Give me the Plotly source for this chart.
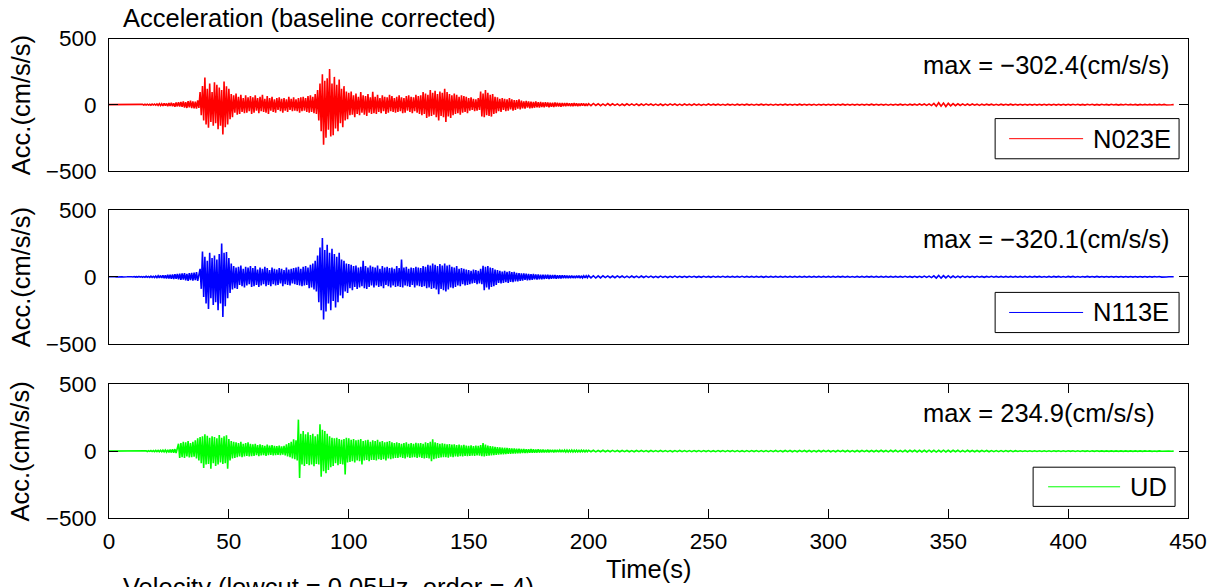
import numpy as np
import plotly.graph_objects as go

# ---------------- data ----------------
# Samples every 0.5 s from 0 s to 199.5 s, then every 1 s from 200 s to 444 s.
HEAD_DT = 0.5
TAIL_T0 = 200.0
TAIL_DT = 1.0

x_ticks = [0, 50, 100, 150, 200, 250, 300, 350, 400, 450]
y_ticks = [-500, 0, 500]

n023e_head = [
    0, 0, 1, 0, -1, 0, 1, -1, 0, 1, 0, -1, 1, 0, -1, 1, 0, -1, 1, -1,
    1, -2, 2, -1, 2, -2, 3, -2, 2, -3, 3, -2, 4, -3, 3, -4, 4, -3, 5, -4,
    6, -5, 8, -6, 7, -9, 10, -8, 9, -11, 12, -10, 14, -12, 11, -15, 16, -13, 18, -14,
    20, -17, 24, -22, 19, -25, 27, -21, 30, -26, 25, -28, 22, -30, 32, -24, 95, -80, 140, -120,
    205, -150, 120, -175, 160, -130, 95, -160, 170, -140, 150, -185, 130, -160, 110, -225, 175, -170, 140, -150,
    120, -110, 80, -95, 70, -60, 85, -75, 60, -70, 75, -55, 50, -65, 70, -60, 55, -50, 65, -70,
    55, -60, 70, -45, 50, -65, 60, -50, 75, -55, 45, -60, 65, -70, 50, -45, 60, -55, 40, -60,
    50, -40, 55, -50, 45, -60, 50, -45, 40, -55, 60, -40, 45, -50, 55, -45, 40, -50, 50, -60,
    55, -50, 60, -45, 50, -55, 65, -60, 70, -55, 60, -65, 80, -70, 110, -120, 160, -200, 230, -302.4,
    180, -250, 200, -190, 270, -240, 160, -230, 210, -180, 150, -200, 190, -140, 120, -170, 140, -120, 100, -110,
    90, -80, 100, -75, 70, -95, 85, -70, 60, -80, 95, -60, 70, -75, 65, -85, 80, -60, 55, -70,
    98, -65, 60, -70, 75, -55, 50, -65, 70, -50, 60, -70, 55, -60, 75, -50, 65, -55, 50, -60,
    60, -55, 70, -50, 55, -65, 50, -60, 65, -45, 70, -55, 60, -65, 55, -50, 75, -60, 65, -70,
    70, -80, 95, -70, 85, -100, 75, -90, 110, -85, 90, -75, 105, -95, 80, -120, 100, -85, 90, -95,
    120, -130, 95, -90, 80, -100, 70, -80, 85, -70, 75, -65, 60, -75, 70, -60, 65, -55, 60, -65,
    50, -45, 55, -40, 45, -50, 40, -45, 50, -40, 100, -90, 85, -95, 110, -80, 90, -85, 75, -90,
    80, -70, 60, -65, 55, -50, 45, -55, 50, -40, 45, -50, 40, -45, 50, -35, 40, -45, 35, -40,
    35, -30, 40, -35, 30, -28, 25, -30, 28, -22, 25, -27, 22, -25, 20, -23, 24, -20, 18, -22,
    20, -18, 16, -20, 18, -15, 17, -19, 15, -16, 14, -17, 16, -13, 15, -14, 12, -15, 13, -12,
    12, -11, 13, -10, 11, -12, 10, -11, 12, -9, 10, -11, 9, -10, 11, -8, 9, -10, 8, -9,
]
n023e_tail = [
    8, -7, 9, -6, 7, -8, 6, -7, 8, -6, 7, -5, 6, -7, 5, -6, 7, -5, 6, -5,
    6, -6, 5, -5, 6, -4, 5, -5, 4, -5, 5, -6, 4, -5, 6, -4, 5, -5, 4, -5,
    5, -4, 4, -5, 5, -4, 4, -5, 3, -4, 5, -4, 4, -3, 4, -4, 3, -4, 4, -3,
    3, -4, 4, -3, 3, -3, 4, -3, 3, -4, 3, -3, 4, -3, 3, -3, 3, -4, 3, -3,
    3, -3, 4, -3, 3, -3, 3, -3, 4, -3, 3, -3, 3, -3, 3, -4, 3, -3, 3, -3,
    3, -3, 3, -3, 3, -3, 4, -3, 3, -3, 3, -3, 3, -3, 3, -3, 3, -3, 4, -3,
    3, -3, 3, -3, 3, -4, 3, -3, 3, -3, 4, -3, 3, -4, 4, -3, 4, -4, 5, -4,
    5, -5, 6, -7, 9, -12, 15, -11, 12, -14, 10, -9, 8, -7, 7, -6, 6, -5, 5, -5,
    5, -4, 4, -5, 4, -4, 4, -3, 4, -4, 3, -4, 4, -3, 3, -3, 4, -3, 3, -3,
    3, -3, 3, -3, 3, -3, 3, -3, 3, -3, 3, -3, 3, -3, 3, -3, 3, -3, 3, -3,
    3, -3, 3, -2, 3, -3, 2, -3, 3, -2, 3, -3, 2, -3, 3, -2, 2, -3, 3, -2,
    2, -3, 2, -2, 3, -2, 2, -2, 2, -3, 2, -2, 2, -2, 2, -2, 2, -2, 2, -2,
    2, -2, 1, -1, 0,
]

n113e_head = [
    0, 1, 0, -1, 1, 0, -1, 0, 1, -1, 1, 0, -1, 1, -1, 0, 1, -1, 1, 0,
    -1, 2, -2, 1, -2, 3, -2, 2, -3, 2, -3, 4, -3, 3, -4, 5, -4, 4, -5, 6,
    -6, 8, -7, 10, -9, 12, -10, 11, -13, 15, -12, 16, -14, 18, -16, 20, -15, 22, -19, 24,
    -22, 25, -20, 28, -26, 22, -30, 27, -24, 30, -28, 32, -25, 35, -30, 28, 60, -90, 190, -150,
    150, -200, 120, -240, 180, -160, 140, -210, 160, -190, 130, -250, 170, -200, 250, -300, 180, -220, 185, -160,
    140, -120, 100, -95, 80, -85, 70, -90, 75, -60, 85, -70, 60, -80, 75, -65, 70, -55, 80, -75,
    65, -70, 80, -60, 55, -75, 70, -65, 60, -55, 75, -70, 65, -60, 50, -70, 70, -55, 60, -65,
    55, -60, 65, -50, 60, -70, 50, -55, 70, -60, 55, -65, 60, -50, 65, -55, 70, -60, 75, -65,
    60, -70, 75, -65, 80, -60, 70, -85, 90, -80, 100, -95, 120, -110, 160, -190, 220, -250, 290, -320.1,
    200, -260, 240, -200, 180, -250, 210, -180, 170, -230, 150, -190, 180, -140, 130, -160, 120, -110, 100, -120,
    95, -85, 90, -100, 80, -75, 85, -90, 70, -80, 75, -70, 120, -85, 80, -90, 70, -75, 85, -65,
    75, -80, 70, -65, 85, -75, 60, -70, 80, -85, 70, -60, 75, -70, 65, -80, 70, -65, 60, -75,
    80, -70, 65, -75, 130, -80, 70, -65, 75, -70, 60, -75, 70, -60, 65, -80, 75, -65, 70, -70,
    65, -75, 80, -70, 75, -85, 90, -80, 85, -90, 100, -85, 90, -95, 80, -130, 95, -90, 85, -100,
    100, -110, 85, -95, 90, -80, 75, -85, 70, -75, 80, -65, 60, -70, 65, -55, 60, -65, 55, -60,
    50, -55, 45, -50, 55, -45, 50, -55, 45, -50, 60, -55, 82, -100, 75, -80, 80, -95, 70, -75,
    65, -70, 55, -60, 50, -45, 45, -50, 40, -45, 45, -40, 38, -45, 42, -38, 35, -40, 38, -35,
    30, -35, 28, -30, 25, -28, 26, -22, 24, -26, 22, -24, 20, -22, 21, -19, 18, -20, 17, -19,
    16, -18, 15, -17, 16, -14, 15, -16, 13, -15, 14, -12, 13, -14, 12, -13, 11, -12, 12, -11,
    11, -10, 10, -11, 9, -10, 10, -9, 8, -10, 9, -8, 9, -9, 8, -8, 7, -8, 8, -7,
]
n113e_tail = [
    9, -8, 8, -9, 7, -8, 8, -6, 7, -7, 6, -7, 7, -5, 6, -6, 5, -6, 6, -5,
    5, -6, 6, -5, 5, -4, 5, -5, 4, -5, 5, -4, 4, -5, 4, -4, 5, -4, 4, -4,
    4, -4, 4, -3, 4, -4, 3, -4, 4, -3, 3, -4, 4, -3, 3, -3, 4, -3, 3, -3,
    3, -3, 3, -3, 4, -3, 3, -3, 3, -3, 3, -3, 3, -4, 3, -3, 3, -3, 3, -3,
    3, -3, 3, -3, 3, -3, 3, -3, 3, -3, 3, -3, 3, -3, 3, -3, 3, -3, 3, -3,
    3, -3, 3, -3, 3, -2, 3, -3, 3, -3, 2, -3, 3, -3, 3, -3, 3, -2, 3, -3,
    3, -3, 3, -3, 3, -3, 3, -3, 3, -3, 3, -3, 4, -3, 3, -4, 4, -4, 4, -4,
    5, -4, 5, -6, 7, -9, 11, -10, 9, -8, 8, -7, 6, -6, 5, -5, 5, -4, 4, -4,
    4, -4, 4, -3, 3, -4, 3, -3, 4, -3, 3, -3, 3, -3, 3, -3, 3, -3, 3, -3,
    3, -3, 3, -3, 3, -3, 3, -2, 3, -3, 2, -3, 3, -3, 3, -2, 3, -3, 2, -3,
    3, -2, 3, -3, 2, -3, 2, -2, 3, -2, 2, -2, 3, -2, 2, -2, 2, -2, 2, -2,
    2, -2, 2, -2, 2, -2, 2, -2, 2, -2, 2, -2, 2, -2, 2, -2, 2, -1, 2, -2,
    1, -1, 1, -1, 0,
]

ud_head = [
    0, 0, 0, 1, 0, -1, 0, 1, 0, -1, 0, 1, -1, 0, 1, -1, 0, 1, -1, 1,
    -1, 1, -1, 2, -1, 2, -2, 2, -2, 3, -2, 3, -3, 3, -2, 4, -3, 4, -4, 5,
    -4, 5, -5, 6, -5, 7, -6, 8, -7, 9, -10, 12, -11, 14, -12, 15, -14, 18, 55, -50,
    60, -45, 70, -50, 65, -40, 75, -48, 60, -45, 70, -42, 80, -55, 95, -70, 105, -90, 110, -125,
    125, -100, 115, -95, 100, -132, 110, -90, 105, -110, 95, -100, 120, -85, 100, -95, 110, -90, 118, -132,
    90, -70, 75, -55, 70, -50, 65, -45, 60, -40, 70, -45, 55, -40, 60, -35, 65, -40, 55, -38,
    50, -35, 55, -30, 45, -38, 50, -32, 45, -30, 40, -35, 48, -30, 42, -28, 45, -32, 40, -30,
    38, -28, 42, -30, 36, -26, 40, -32, 50, -40, 60, -45, 70, -55, 88, -60, 80, -70, 234.9, -200,
    130, -100, 150, -110, 125, -95, 140, -105, 120, -100, 130, -112, 110, -95, 125, -100, 200, -192, 160, -150,
    150, -165, 130, -140, 110, -120, 100, -110, 95, -90, 100, -105, 90, -95, 85, -100, 90, -175, 100, -85,
    95, -80, 85, -75, 90, -85, 80, -70, 85, -75, 90, -100, 75, -70, 80, -65, 85, -75, 70, -65,
    80, -65, 75, -70, 85, -60, 70, -65, 75, -60, 65, -70, 70, -55, 75, -60, 65, -55, 60, -50,
    65, -50, 60, -45, 55, -50, 60, -55, 65, -45, 55, -50, 60, -48, 55, -45, 62, -50, 58, -45,
    60, -50, 55, -55, 65, -50, 60, -55, 70, -75, 88, -60, 65, -55, 60, -50, 55, -48, 58, -45,
    55, -45, 50, -48, 52, -42, 48, -45, 50, -40, 45, -42, 48, -38, 44, -40, 46, -36, 42, -38,
    40, -36, 44, -34, 38, -35, 42, -32, 40, -34, 45, -38, 60, -40, 48, -36, 42, -34, 38, -32,
    35, -30, 32, -28, 30, -27, 28, -25, 26, -24, 25, -22, 24, -21, 22, -20, 21, -19, 20, -18,
    19, -17, 18, -16, 17, -15, 16, -15, 15, -14, 14, -13, 15, -12, 13, -12, 12, -11, 13, -11,
    12, -10, 11, -10, 10, -9, 11, -9, 10, -8, 9, -9, 10, -8, 9, -8, 8, -7, 9, -8,
    8, -7, 8, -7, 7, -6, 8, -7, 7, -6, 7, -6, 6, -6, 7, -5, 6, -6, 6, -5,
]
ud_tail = [
    6, -5, 6, -6, 5, -5, 6, -5, 5, -5, 6, -4, 5, -5, 5, -4, 5, -5, 4, -5,
    5, -4, 5, -4, 4, -5, 5, -4, 4, -4, 5, -4, 4, -4, 4, -5, 4, -4, 5, -4,
    4, -4, 4, -4, 4, -3, 4, -4, 4, -3, 4, -4, 3, -4, 4, -3, 4, -4, 4, -3,
    4, -4, 4, -4, 3, -4, 4, -4, 4, -3, 4, -4, 4, -4, 4, -4, 4, -4, 5, -4,
    4, -5, 5, -4, 5, -5, 4, -5, 5, -4, 5, -5, 5, -5, 4, -5, 5, -5, 5, -4,
    5, -5, 4, -5, 5, -4, 5, -5, 5, -5, 4, -5, 5, -5, 5, -4, 5, -5, 5, -5,
    5, -5, 6, -5, 5, -6, 6, -5, 6, -6, 5, -6, 6, -6, 6, -5, 6, -6, 6, -6,
    6, -6, 7, -6, 6, -7, 6, -6, 7, -6, 6, -6, 6, -5, 6, -6, 5, -6, 6, -5,
    5, -5, 5, -5, 5, -4, 5, -5, 4, -4, 4, -4, 4, -4, 4, -3, 4, -4, 3, -3,
    3, -3, 3, -3, 3, -3, 3, -3, 3, -3, 3, -3, 3, -3, 3, -2, 3, -3, 3, -3,
    3, -2, 3, -3, 2, -3, 3, -2, 2, -3, 2, -2, 3, -2, 2, -2, 2, -2, 2, -2,
    2, -2, 2, -2, 2, -2, 2, -2, 2, -2, 2, -2, 2, -1, 2, -2, 1, -2, 2, -1,
    1, -1, 1, -1, 0,
]

component_names = ["N023E", "N113E", "UD"]
component_colors = ["#ff0000", "#0000ff", "#00ff00"]

# ---------------- layout helpers ----------------
W, H = 1228, 587
FONT = "Liberation Sans, Arial, Helvetica, sans-serif"
TXT = 25.5
TICK = 22.5

# calibration: the photographed page maps figure pixel p to picture pixel
# X0 + SX * p (horizontally) and Y0 + SY * p (vertically); positions below are
# given in picture pixels and converted back to paper fractions.
CAL_X0, CAL_SX = 8.5, 0.98
CAL_Y0, CAL_SY = 12.9, 0.953


def px(x):
    return (x - CAL_X0) / CAL_SX / W


def py(y):
    return 1 - (y - CAL_Y0) / CAL_SY / H


X_LEFT, X_RIGHT = 111.5, 1191
panel_tops = [39.3, 210, 383.3]
panel_bots = [171, 343, 516.7]
peak_y = [66, 239, 412]
legend_rows = [(119, 159), (292, 332), (466, 505)]

fig = go.Figure()
heads = [n023e_head, n113e_head, ud_head]
tails = [n023e_tail, n113e_tail, ud_tail]

annotations = []
shapes = []
layout_axes = {}

for i in range(3):
    sfx = "" if i == 0 else str(i + 1)
    head = np.asarray(heads[i], dtype=float)
    tail = np.asarray(tails[i], dtype=float)
    t = np.concatenate([np.arange(len(head)) * HEAD_DT,
                        TAIL_T0 + np.arange(len(tail)) * TAIL_DT])
    y = np.concatenate([head, tail])
    fig.add_trace(go.Scatter(x=t, y=y, mode="lines", name=component_names[i],
                             line=dict(color=component_colors[i], width=1.6),
                             xaxis="x" + sfx, yaxis="y" + sfx, showlegend=False,
                             hoverinfo="skip"))

    top = panel_tops[i]
    bot = panel_bots[i]
    last = i == 2
    xa = dict(domain=[px(X_LEFT), px(X_RIGHT)], range=[0, 450], anchor="y" + sfx,
              showline=True, linecolor="black", linewidth=1, showgrid=False,
              zeroline=False, fixedrange=True)
    if last:
        xa.update(ticks="inside", ticklen=9, tickwidth=1, tickcolor="black",
                  mirror="ticks", tickmode="array", tickvals=x_ticks,
                  ticktext=[str(v) for v in x_ticks],
                  tickfont=dict(family=FONT, size=TICK, color="black"),
                  ticklabelstandoff=3)
    else:
        xa.update(mirror=True, ticks="", showticklabels=False)
    ya = dict(domain=[py(bot), py(top)], range=[-500, 500], anchor="x" + sfx,
              showline=True, linecolor="black", linewidth=1, mirror="ticks",
              ticks="inside", ticklen=9, tickwidth=1, tickcolor="black",
              tickmode="array", tickvals=y_ticks,
              tickfont=dict(family=FONT, size=TICK, color="black"),
              showgrid=False, zeroline=False, fixedrange=True,
              ticklabelstandoff=7)
    layout_axes["xaxis" + sfx] = xa
    layout_axes["yaxis" + sfx] = ya

    # y label
    annotations.append(dict(text="Acc.(cm/s/s)", x=px(23), y=py((top + bot) / 2),
                            xref="paper", yref="paper", textangle=-90,
                            showarrow=False, xanchor="center", yanchor="middle",
                            font=dict(family=FONT, size=TXT, color="black")))
    # peak value label, computed from the data
    k = int(np.argmax(np.abs(y)))
    peak = y[k]
    peak_txt = f"max = {peak:.1f}(cm/s/s)".replace("-", "\u2212")
    annotations.append(dict(text=peak_txt, x=px(924), y=py(peak_y[i]),
                            xref="paper", yref="paper", showarrow=False,
                            xanchor="left", yanchor="middle",
                            font=dict(family=FONT, size=TXT, color="black")))
    # legend box (drawn like the MATLAB legend)
    if last:
        bx0, bx1, lx0, lx1, tx = 1036, 1178, 1051, 1123, 1131
    else:
        bx0, bx1, lx0, lx1, tx = 998, 1182, 1012, 1086, 1094
    by0, by1 = legend_rows[i]
    ly = (by0 + by1) / 2
    shapes.append(dict(type="rect", xref="paper", yref="paper",
                       x0=px(bx0), x1=px(bx1), y0=py(by1), y1=py(by0),
                       line=dict(color="black", width=1), fillcolor="white"))
    shapes.append(dict(type="line", xref="paper", yref="paper",
                       x0=px(lx0), x1=px(lx1), y0=py(ly), y1=py(ly),
                       line=dict(color=component_colors[i], width=1)))
    annotations.append(dict(text=component_names[i], x=px(tx), y=py(ly),
                            xref="paper", yref="paper", showarrow=False,
                            xanchor="left", yanchor="middle",
                            font=dict(family=FONT, size=TXT, color="black")))

annotations.append(dict(text="Acceleration (baseline corrected)", x=px(124), y=py(18.5),
                        xref="paper", yref="paper", showarrow=False,
                        xanchor="left", yanchor="middle",
                        font=dict(family=FONT, size=TXT, color="black")))
annotations.append(dict(text="Time(s)", x=px((X_LEFT + X_RIGHT) / 2), y=py(567),
                        xref="paper", yref="paper", showarrow=False,
                        xanchor="center", yanchor="middle",
                        font=dict(family=FONT, size=TXT, color="black")))
annotations.append(dict(text="Velocity (lowcut = 0.05Hz, order = 4)", x=px(124), y=py(585),
                        xref="paper", yref="paper", showarrow=False,
                        xanchor="left", yanchor="middle",
                        font=dict(family=FONT, size=TXT, color="black")))

fig.update_layout(width=W, height=H, margin=dict(l=0, r=0, t=0, b=0),
                  paper_bgcolor="white", plot_bgcolor="white",
                  showlegend=False, annotations=annotations, shapes=shapes,
                  **layout_axes)

fig.write_html("out.html",
               config={"displayModeBar": False},
               post_script="document.documentElement.style.margin='0px';"
                           "document.body.style.margin='0px';"
                           "document.body.style.overflow='hidden';")
